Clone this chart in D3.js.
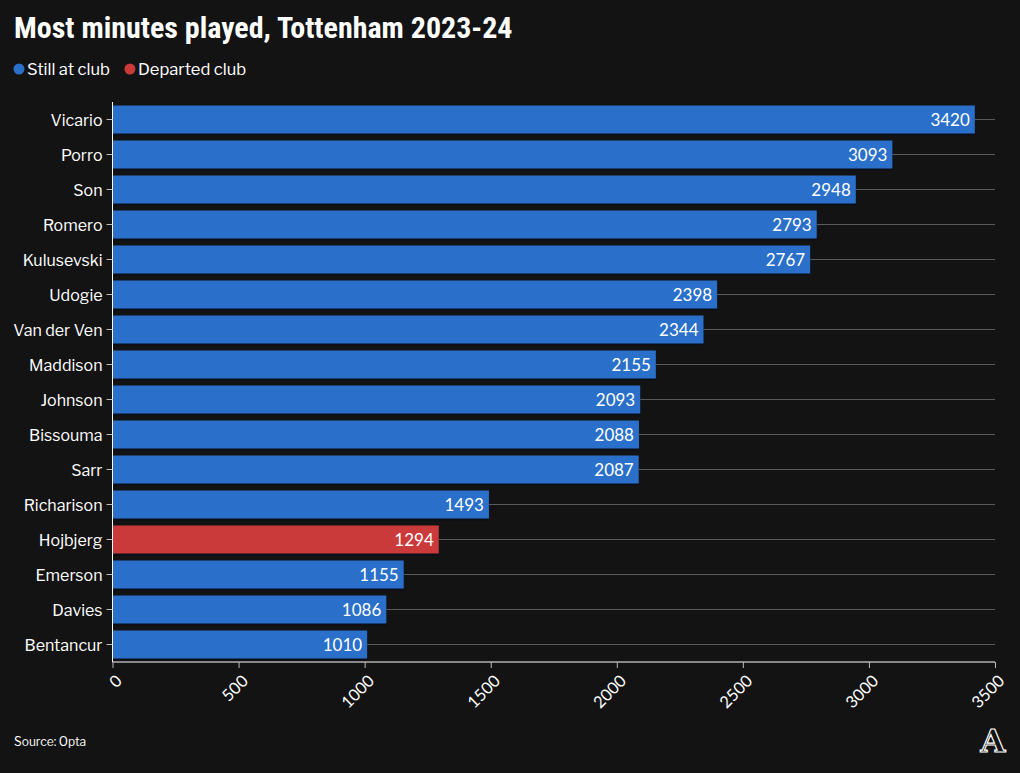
<!DOCTYPE html>
<html><head><meta charset="utf-8">
<script src="https://cdn.jsdelivr.net/npm/d3@7"></script>
<style>
body{margin:0;background:#131313;}
svg{display:block;}
</style></head>
<body><svg id="c" width="1020" height="773"></svg>
<script>
const players = ["Vicario","Porro","Son","Romero","Kulusevski","Udogie","Van der Ven","Maddison","Johnson","Bissouma","Sarr","Richarison","Hojbjerg","Emerson","Davies","Bentancur"];
const minutes = [3420,3093,2948,2793,2767,2398,2344,2155,2093,2088,2087,1493,1294,1155,1086,1010];
const status = ["still","still","still","still","still","still","still","still","still","still","still","still","departed","still","still","still"];
const xTicks = [0,500,1000,1500,2000,2500,3000,3500];
const legendLabels = ["Still at club","Departed club"];
const legendKeys = ["still","departed"];

const colors = {still:"#2a6fc9", departed:"#cb3a3a"};
const svg = d3.select("#c");
svg.append("rect").attr("width",1020).attr("height",773).attr("fill","#131313");

const m = {left:112.5, right:995, top:102, bottom:662};
const x = d3.scaleLinear().domain([0,3500]).range([m.left,m.right]);
const y = d3.scaleBand().domain(players).range([m.top,m.bottom]).paddingInner(0.2).paddingOuter(0.1);

// title
svg.append("text").attr("x",14).attr("y",38).attr("fill","#fff")
  .style("font-family","Roboto Condensed, Roboto, sans-serif").style("font-weight",700).style("font-size","30px")
  .text("Most minutes played, Tottenham 2023-24");

// legend
const lg = svg.append("g");
let lx = 19;
legendKeys.forEach((k,i)=>{
  lg.append("circle").attr("cx",lx).attr("cy",69).attr("r",5.5).attr("fill",colors[k]);
  const t = lg.append("text").attr("x",lx+8).attr("y",75).attr("fill","#fff")
    .style("font-family","Libre Franklin, Roboto, sans-serif").style("font-size","16.5px").text(legendLabels[i]);
  lx += t.node().getComputedTextLength() + 28;
});

// gridlines
const data = players.map((p,i)=>({p, v:minutes[i], s:status[i]}));
svg.append("g").selectAll("line").data(data).join("line")
  .attr("x1",m.left).attr("x2",m.right)
  .attr("y1",d=>y(d.p)+y.bandwidth()/2).attr("y2",d=>y(d.p)+y.bandwidth()/2)
  .attr("stroke","#5a5a5a").attr("stroke-width",1);

// bar shadows
svg.append("g").selectAll("rect").data(data).join("rect")
  .attr("x",x(0)).attr("y",d=>y(d.p)+2).attr("width",d=>x(d.v)-x(0)).attr("height",y.bandwidth())
  .attr("fill","#0b0f18");
// bars
svg.append("g").selectAll("rect").data(data).join("rect")
  .attr("x",x(0)).attr("y",d=>y(d.p)).attr("width",d=>x(d.v)-x(0)).attr("height",y.bandwidth())
  .attr("fill",d=>colors[d.s]);

// value labels
svg.append("g").selectAll("text").data(data).join("text")
  .attr("x",d=>x(d.v)-5).attr("y",d=>y(d.p)+y.bandwidth()/2).attr("dy","0.38em")
  .attr("text-anchor","end").attr("fill","#fff")
  .style("font-family","Lato, sans-serif").style("font-size","17px").text(d=>d.v);

// y axis
const ya = svg.append("g").attr("transform",`translate(${m.left},0)`).call(d3.axisLeft(y).tickSize(6).tickPadding(4));
ya.select(".domain").attr("stroke","#fff").attr("d",`M0,${m.top}V${m.bottom}`);
ya.selectAll(".tick line").attr("stroke","#bbb");
ya.selectAll(".tick text").attr("fill","#fff").attr("dy","0.38em").style("font-family","Libre Franklin, Roboto, sans-serif").style("font-size","16px");

// x axis
const xa = svg.append("g").attr("transform",`translate(0,${m.bottom})`).call(d3.axisBottom(x).tickValues(xTicks).tickSize(6).tickFormat(d=>d));
xa.select(".domain").attr("stroke","#fff").attr("d",`M${m.left},0H${m.right}`);
xa.selectAll(".tick line").attr("stroke","#bbb");
xa.selectAll(".tick text").attr("fill","#fff").style("font-family","Lato, sans-serif").style("font-size","16.5px")
  .attr("text-anchor","end").attr("y",0).attr("dy","0.35em")
  .attr("transform","translate(6,16) rotate(-45)");

// source
svg.append("text").attr("x",14).attr("y",746).attr("fill","#fff")
  .style("font-family","Libre Franklin, Roboto, sans-serif").style("font-size","12px").text("Source: Opta");

// logo
svg.append("text").attr("x",993).attr("y",752).attr("text-anchor","middle").attr("fill","#131313")
  .attr("stroke","#fff").attr("stroke-width",1.2)
  .style("font-family","DejaVu Serif, serif").style("font-weight",700).style("font-size","32px").text("A");
</script></body></html>
